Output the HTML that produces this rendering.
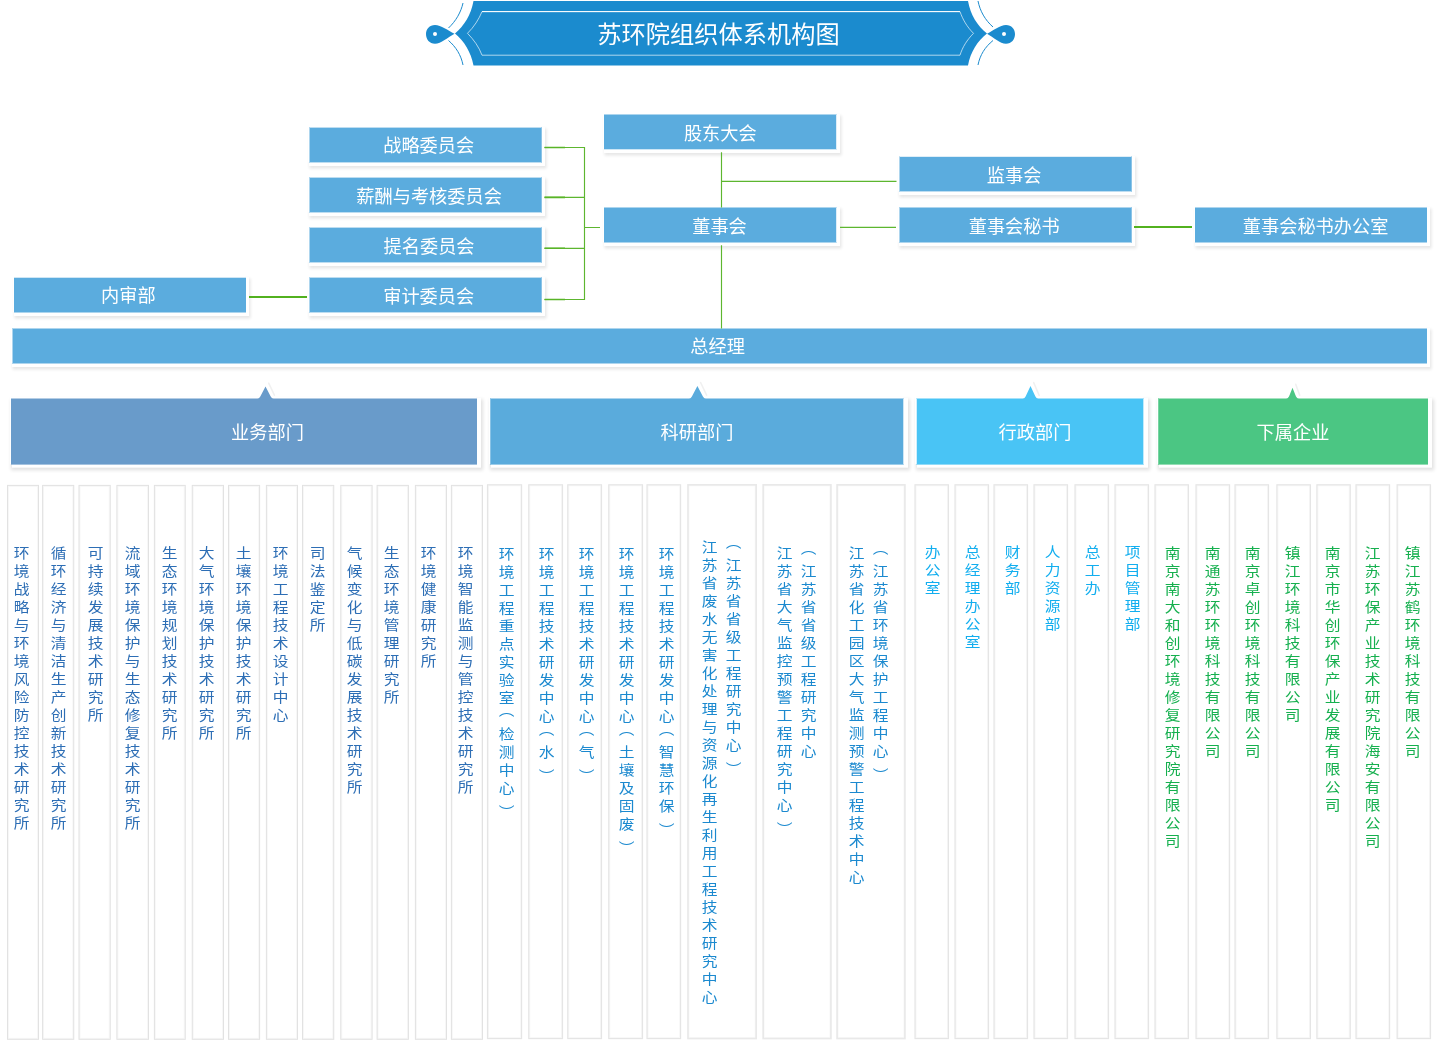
<!DOCTYPE html>
<html lang="zh-CN">
<head>
<meta charset="utf-8">
<title>苏环院组织体系机构图</title>
<style>
*{margin:0;padding:0;box-sizing:border-box}
html,body{width:1440px;height:1043px;background:#fff;overflow:hidden}
body{font-family:"Liberation Sans", "Noto Sans CJK SC", sans-serif;position:relative}
#wrap{position:absolute;left:0;top:0;width:1440px;height:1043px;overflow:hidden;background:#fff}
#wrap{will-change:transform}
svg{position:absolute;left:0;top:0}
.title{position:absolute;left:418.6px;top:1.5px;width:600px;height:66px;line-height:66px;text-align:center;color:#fff;font-size:24.25px;white-space:nowrap}
.box{position:absolute;background-clip:padding-box;box-shadow:1.5px 1.5px 0 1.5px #fff,-1px -1px 0 0 #fff,2.25px 3.3px 3px 2.5px rgba(0,0,0,.10)}
.bt{position:absolute;width:200px;height:30px;line-height:30px;text-align:center;color:#fff;font-size:18.2px;white-space:nowrap}
.head{position:absolute;background-clip:padding-box;box-shadow:2.5px 1.2px 0 1.5px #fff,-1px -1px 0 0 #fff,2.75px 3.25px 3.5px 2.75px rgba(0,0,0,.12)}
.ht{position:absolute;top:417.6px;width:120px;height:30px;line-height:30px;text-align:center;color:#fff;font-size:18.2px;white-space:nowrap}
.vt{position:absolute;writing-mode:vertical-rl;width:24px;font-size:15px;line-height:24px;letter-spacing:4.15px;white-space:nowrap;transform:scale(1.05,.94);transform-origin:50% 0}
.po{position:relative;top:-6px}.pc{position:relative;top:6px}
.b{color:#2d6eb5}.r{color:#1b89cf}.a{color:#12aeef}.s{color:#16b04f}
</style>
</head>
<body>
<div id="wrap">
<svg width="1440" height="400" viewBox="0 0 1440 400">
<g id="banner">
<path d="M473.5 1 H968 C970.5 15 977.5 26 987 33.5 C977.5 41 970.5 52 968 65.5 H473.5 C471 52 464 41 455 33.5 C464 26 471 15 473.5 1 Z" fill="#1b8bce"/>
<path d="M482 11.6 H960 C962.5 19 967 27 973.5 33.3 C967 40 962.5 47 960 55.2 H482 C479 47 474 40 467.5 33.3 C474 27 479 19 482 11.6 Z" fill="none" stroke="#fff" stroke-width="0.9" opacity="0.72"/>
<path d="M482 11.6 H960" fill="none" stroke="#fff" stroke-width="1"/>
<path d="M463 3 C461 12 456 21 448.5 28" fill="none" stroke="#1b8bce" stroke-width="1"/>
<path d="M463 65 C461 55 456 47 448.5 40.5" fill="none" stroke="#1b8bce" stroke-width="1"/>
<path d="M978 1 C980 11 985 20 993 27" fill="none" stroke="#1b8bce" stroke-width="1"/>
<path d="M978 65 C980 55 985 47 993 40.5" fill="none" stroke="#1b8bce" stroke-width="1"/>
<path d="M454.5 33.8 C448 30.5 441 25 435 25 C429.5 25 426 29 426 34 C426 39.5 429.5 43.7 435 43.7 C441 43.7 448 37.5 454.5 33.8 Z" fill="#1b8bce"/>
<circle cx="435" cy="34" r="2" fill="#fff"/>
<path d="M987 33.8 C993.5 30.5 1000 25 1006 25 C1011.5 25 1015 29 1015 34 C1015 39.5 1011.5 43.7 1006 43.7 C1000 43.7 993.5 37.5 987 33.8 Z" fill="#1b8bce"/>
<circle cx="1004" cy="34" r="2" fill="#fff"/>
</g>
</svg>

<div class="title">苏环院组织体系机构图</div>
<div class="box" style="left:309px;top:127px;width:233px;height:36px;background-color:#5bacde;border-style:solid;border-width:1px 1px 1px 1px;border-color:rgba(91,172,222,0.4) rgba(91,172,222,0.7) rgba(91,172,222,0.4) rgba(91,172,222,0.5)"></div>
<div class="box" style="left:309px;top:177px;width:233px;height:36px;background-color:#5bacde;border-style:solid;border-width:1px 1px 1px 1px;border-color:rgba(91,172,222,0.4) rgba(91,172,222,0.7) rgba(91,172,222,0.4) rgba(91,172,222,0.5)"></div>
<div class="box" style="left:309px;top:227px;width:233px;height:36px;background-color:#5bacde;border-style:solid;border-width:1px 1px 1px 1px;border-color:rgba(91,172,222,0.4) rgba(91,172,222,0.7) rgba(91,172,222,0.4) rgba(91,172,222,0.5)"></div>
<div class="box" style="left:309px;top:277px;width:233px;height:36px;background-color:#5bacde;border-style:solid;border-width:1px 1px 1px 1px;border-color:rgba(91,172,222,0.4) rgba(91,172,222,0.7) rgba(91,172,222,0.4) rgba(91,172,222,0.5)"></div>
<div class="box" style="left:14px;top:277px;width:232px;height:36px;background-color:#5bacde;border-style:solid;border-width:1px 0px 1px 0px;border-color:rgba(91,172,222,0.3) rgba(91,172,222,1) rgba(91,172,222,0.5) rgba(91,172,222,1)"></div>
<div class="box" style="left:604px;top:114px;width:233px;height:36px;background-color:#5bacde;border-style:solid;border-width:1px 1px 1px 0px;border-color:rgba(91,172,222,0.5) rgba(91,172,222,0.2) rgba(91,172,222,0.3) rgba(91,172,222,1)"></div>
<div class="box" style="left:604px;top:207px;width:233px;height:36px;background-color:#5bacde;border-style:solid;border-width:1px 1px 1px 0px;border-color:rgba(91,172,222,0.5) rgba(91,172,222,0.2) rgba(91,172,222,0.5) rgba(91,172,222,1)"></div>
<div class="box" style="left:899px;top:156px;width:233px;height:36px;background-color:#5bacde;border-style:solid;border-width:1px 1px 1px 1px;border-color:rgba(91,172,222,0.2) rgba(91,172,222,0.7) rgba(91,172,222,0.4) rgba(91,172,222,0.5)"></div>
<div class="box" style="left:899px;top:207px;width:233px;height:36px;background-color:#5bacde;border-style:solid;border-width:1px 1px 1px 1px;border-color:rgba(91,172,222,0.5) rgba(91,172,222,0.7) rgba(91,172,222,0.5) rgba(91,172,222,0.5)"></div>
<div class="box" style="left:1195px;top:207px;width:232px;height:36px;background-color:#5bacde;border-style:solid;border-width:1px 0px 1px 0px;border-color:rgba(91,172,222,0.5) rgba(91,172,222,1) rgba(91,172,222,0.5) rgba(91,172,222,1)"></div>
<div class="box" style="left:12px;top:328px;width:1415px;height:36px;background-color:#5bacde;border-style:solid;border-width:1px 0px 1px 1px;border-color:rgba(91,172,222,0.5) rgba(91,172,222,1) rgba(91,172,222,0.5) rgba(91,172,222,0.5)"></div>
<div class="bt" style="left:328.7px;top:130.7px">战略委员会</div>
<div class="bt" style="left:329.1px;top:182.4px">薪酬与考核委员会</div>
<div class="bt" style="left:329.1px;top:232.3px">提名委员会</div>
<div class="bt" style="left:328.7px;top:282.2px">审计委员会</div>
<div class="bt" style="left:28.4px;top:280.8px">内审部</div>
<div class="bt" style="left:620.3px;top:119.4px">股东大会</div>
<div class="bt" style="left:619.5px;top:211.8px">董事会</div>
<div class="bt" style="left:914.1px;top:161.2px">监事会</div>
<div class="bt" style="left:914.2px;top:211.7px">董事会秘书</div>
<div class="bt" style="left:1215.6px;top:211.7px">董事会秘书办公室</div>
<div class="bt" style="left:617.6px;top:332.3px">总经理</div>
<div class="head" style="left:11px;top:398px;width:466px;height:67px;background-color:#699bca;border-style:solid;border-width:1px 0px 1px 0px;border-color:rgba(105,155,202,0.5) rgba(105,155,202,1) rgba(105,155,202,0.6) rgba(105,155,202,1)"></div>
<div class="ht" style="left:207.5px">业务部门</div>
<div class="head" style="left:490px;top:398px;width:414px;height:67px;background-color:#5aabdc;border-style:solid;border-width:1px 1px 1px 1px;border-color:rgba(90,171,220,0.5) rgba(90,171,220,0.3) rgba(90,171,220,0.6) rgba(90,171,220,0.7)"></div>
<div class="ht" style="left:637px">科研部门</div>
<div class="head" style="left:916px;top:398px;width:228px;height:67px;background-color:#49c4f5;border-style:solid;border-width:1px 1px 1px 1px;border-color:rgba(73,196,245,0.5) rgba(73,196,245,0.35) rgba(73,196,245,0.6) rgba(73,196,245,0.25)"></div>
<div class="ht" style="left:975px">行政部门</div>
<div class="head" style="left:1158px;top:398px;width:270px;height:67px;background-color:#4bc683;border-style:solid;border-width:1px 0px 1px 1px;border-color:rgba(75,198,131,0.5) rgba(75,198,131,1) rgba(75,198,131,0.6) rgba(75,198,131,0.75)"></div>
<div class="ht" style="left:1233px">下属企业</div>
<svg width="1440" height="410" viewBox="0 0 1440 410">
<g fill="none" stroke="#5db62f" stroke-width="1.15">
<path d="M544.5 147.45 H584.5 M544.5 197.35 H584.5 M544.5 248.3 H584.5 M544.5 299.45 H584.5 M584.5 146.9 V300 M584.5 227.45 H600"/>
<path d="M721.5 152.3 V207.5 M721.5 245.3 V328.5 M721.5 181.35 H896.5 M840 227.4 H896"/>
</g>
<g fill="none" stroke="#58b427" stroke-width="1.6">
<path d="M544.5 147.45 H565 M544.5 197.35 H565 M544.5 248.3 H565 M544.5 299.45 H565"/>
</g>
<g fill="none" stroke="#52b11f" stroke-width="2">
<path d="M249 297 H307 M1134 227 H1192"/>
</g>
<path d="M268.7 383.1 L274.4 395.2" fill="none" stroke="#000" stroke-opacity=".06" stroke-width="1.6" stroke-linecap="round"/>
<path d="M257 399.2 Q259.2 398.6 260.3 396.6 L265.5 386.6 L270.7 396.6 Q271.8 398.6 274 399.2 Z" fill="#699bca"/>
<path d="M700.6 382.5 L706.6 395.2" fill="none" stroke="#000" stroke-opacity=".06" stroke-width="1.6" stroke-linecap="round"/>
<path d="M688.6 399.2 Q690.8 398.6 691.9 396.6 L697.4 386 L702.9 396.6 Q704 398.6 706.2 399.2 Z" fill="#5aabdc"/>
<path d="M1033.7 382.6 L1039.1 395.2" fill="none" stroke="#000" stroke-opacity=".06" stroke-width="1.6" stroke-linecap="round"/>
<path d="M1022.3 399.2 Q1024.5 398.6 1025.6 396.6 L1030.5 386.1 L1035.4 396.6 Q1036.5 398.6 1038.7 399.2 Z" fill="#49c4f5"/>
<path d="M1295.7 384.3 L1299.7 395.2" fill="none" stroke="#000" stroke-opacity=".06" stroke-width="1.6" stroke-linecap="round"/>
<path d="M1285.7 399.2 Q1287.9 398.6 1289 396.6 L1292.5 387.8 L1296 396.6 Q1297.1 398.6 1299.3 399.2 Z" fill="#4bc683"/>
</svg>
<svg width="1440" height="1043" viewBox="0 0 1440 1043">
<rect x="7.5" y="485.4" width="31" height="553.9" fill="#fff" stroke="#e2e2e2" stroke-width="1"/>
<rect x="8.5" y="486.4" width="29" height="551.9" fill="none" stroke="#000" stroke-opacity=".03" stroke-width="1"/>
<rect x="42.6" y="485.4" width="31.15" height="553.9" fill="#fff" stroke="#e2e2e2" stroke-width="1"/>
<rect x="43.6" y="486.4" width="29.15" height="551.9" fill="none" stroke="#000" stroke-opacity=".03" stroke-width="1"/>
<rect x="79" y="485.4" width="31.25" height="553.9" fill="#fff" stroke="#e2e2e2" stroke-width="1"/>
<rect x="80" y="486.4" width="29.25" height="551.9" fill="none" stroke="#000" stroke-opacity=".03" stroke-width="1"/>
<rect x="116.9" y="485.4" width="31.6" height="553.9" fill="#fff" stroke="#e2e2e2" stroke-width="1"/>
<rect x="117.9" y="486.4" width="29.6" height="551.9" fill="none" stroke="#000" stroke-opacity=".03" stroke-width="1"/>
<rect x="154.4" y="485.4" width="30.85" height="553.9" fill="#fff" stroke="#e2e2e2" stroke-width="1"/>
<rect x="155.4" y="486.4" width="28.85" height="551.9" fill="none" stroke="#000" stroke-opacity=".03" stroke-width="1"/>
<rect x="192.25" y="485.4" width="31.25" height="553.9" fill="#fff" stroke="#e2e2e2" stroke-width="1"/>
<rect x="193.25" y="486.4" width="29.25" height="551.9" fill="none" stroke="#000" stroke-opacity=".03" stroke-width="1"/>
<rect x="228.5" y="485.4" width="31.1" height="553.9" fill="#fff" stroke="#e2e2e2" stroke-width="1"/>
<rect x="229.5" y="486.4" width="29.1" height="551.9" fill="none" stroke="#000" stroke-opacity=".03" stroke-width="1"/>
<rect x="266.4" y="485.4" width="31.1" height="553.9" fill="#fff" stroke="#e2e2e2" stroke-width="1"/>
<rect x="267.4" y="486.4" width="29.1" height="551.9" fill="none" stroke="#000" stroke-opacity=".03" stroke-width="1"/>
<rect x="302.5" y="485.4" width="31.25" height="553.9" fill="#fff" stroke="#e2e2e2" stroke-width="1"/>
<rect x="303.5" y="486.4" width="29.25" height="551.9" fill="none" stroke="#000" stroke-opacity=".03" stroke-width="1"/>
<rect x="340.75" y="485.4" width="31.35" height="553.9" fill="#fff" stroke="#e2e2e2" stroke-width="1"/>
<rect x="341.75" y="486.4" width="29.35" height="551.9" fill="none" stroke="#000" stroke-opacity=".03" stroke-width="1"/>
<rect x="377.1" y="485.4" width="31.3" height="553.9" fill="#fff" stroke="#e2e2e2" stroke-width="1"/>
<rect x="378.1" y="486.4" width="29.3" height="551.9" fill="none" stroke="#000" stroke-opacity=".03" stroke-width="1"/>
<rect x="415.4" y="485.4" width="31.1" height="553.9" fill="#fff" stroke="#e2e2e2" stroke-width="1"/>
<rect x="416.4" y="486.4" width="29.1" height="551.9" fill="none" stroke="#000" stroke-opacity=".03" stroke-width="1"/>
<rect x="451.4" y="485.4" width="31.1" height="553.9" fill="#fff" stroke="#e2e2e2" stroke-width="1"/>
<rect x="452.4" y="486.4" width="29.1" height="551.9" fill="none" stroke="#000" stroke-opacity=".03" stroke-width="1"/>
<rect x="487.5" y="484.8" width="34.1" height="553.8" fill="#fff" stroke="#e5e5e5" stroke-width="1.15"/>
<rect x="488.5" y="485.8" width="32.1" height="551.8" fill="none" stroke="#000" stroke-opacity=".03" stroke-width="1"/>
<rect x="528.75" y="484.8" width="33.75" height="553.8" fill="#fff" stroke="#e5e5e5" stroke-width="1.15"/>
<rect x="529.75" y="485.8" width="31.75" height="551.8" fill="none" stroke="#000" stroke-opacity=".03" stroke-width="1"/>
<rect x="567.75" y="484.8" width="33.75" height="553.8" fill="#fff" stroke="#e5e5e5" stroke-width="1.15"/>
<rect x="568.75" y="485.8" width="31.75" height="551.8" fill="none" stroke="#000" stroke-opacity=".03" stroke-width="1"/>
<rect x="608.75" y="484.8" width="33.75" height="553.8" fill="#fff" stroke="#e5e5e5" stroke-width="1.15"/>
<rect x="609.75" y="485.8" width="31.75" height="551.8" fill="none" stroke="#000" stroke-opacity=".03" stroke-width="1"/>
<rect x="647" y="484.8" width="33.6" height="553.8" fill="#fff" stroke="#e5e5e5" stroke-width="1.15"/>
<rect x="648" y="485.8" width="31.6" height="551.8" fill="none" stroke="#000" stroke-opacity=".03" stroke-width="1"/>
<rect x="687.9" y="484.8" width="68.35" height="553.8" fill="#fff" stroke="#e9e9e9" stroke-width="1.5"/>
<rect x="688.9" y="485.8" width="66.35" height="551.8" fill="none" stroke="#000" stroke-opacity=".03" stroke-width="1"/>
<rect x="763.1" y="484.8" width="67.9" height="553.8" fill="#fff" stroke="#e9e9e9" stroke-width="1.5"/>
<rect x="764.1" y="485.8" width="65.9" height="551.8" fill="none" stroke="#000" stroke-opacity=".03" stroke-width="1"/>
<rect x="837" y="484.8" width="68" height="553.8" fill="#fff" stroke="#e9e9e9" stroke-width="1.5"/>
<rect x="838" y="485.8" width="66" height="551.8" fill="none" stroke="#000" stroke-opacity=".03" stroke-width="1"/>
<rect x="915" y="484.8" width="33.4" height="553.8" fill="#fff" stroke="#e5e5e5" stroke-width="1.15"/>
<rect x="916" y="485.8" width="31.4" height="551.8" fill="none" stroke="#000" stroke-opacity=".03" stroke-width="1"/>
<rect x="955" y="484.8" width="33.5" height="553.8" fill="#fff" stroke="#e5e5e5" stroke-width="1.15"/>
<rect x="956" y="485.8" width="31.5" height="551.8" fill="none" stroke="#000" stroke-opacity=".03" stroke-width="1"/>
<rect x="994" y="484.8" width="33.5" height="553.8" fill="#fff" stroke="#e5e5e5" stroke-width="1.15"/>
<rect x="995" y="485.8" width="31.5" height="551.8" fill="none" stroke="#000" stroke-opacity=".03" stroke-width="1"/>
<rect x="1034" y="484.8" width="33.5" height="553.8" fill="#fff" stroke="#e5e5e5" stroke-width="1.15"/>
<rect x="1035" y="485.8" width="31.5" height="551.8" fill="none" stroke="#000" stroke-opacity=".03" stroke-width="1"/>
<rect x="1075" y="484.8" width="33.5" height="553.8" fill="#fff" stroke="#e5e5e5" stroke-width="1.15"/>
<rect x="1076" y="485.8" width="31.5" height="551.8" fill="none" stroke="#000" stroke-opacity=".03" stroke-width="1"/>
<rect x="1115" y="484.8" width="33.5" height="553.8" fill="#fff" stroke="#e5e5e5" stroke-width="1.15"/>
<rect x="1116" y="485.8" width="31.5" height="551.8" fill="none" stroke="#000" stroke-opacity=".03" stroke-width="1"/>
<rect x="1155" y="484.8" width="33.4" height="553.8" fill="#fff" stroke="#e5e5e5" stroke-width="1.15"/>
<rect x="1156" y="485.8" width="31.4" height="551.8" fill="none" stroke="#000" stroke-opacity=".03" stroke-width="1"/>
<rect x="1196" y="484.8" width="33.6" height="553.8" fill="#fff" stroke="#e5e5e5" stroke-width="1.15"/>
<rect x="1197" y="485.8" width="31.6" height="551.8" fill="none" stroke="#000" stroke-opacity=".03" stroke-width="1"/>
<rect x="1235" y="484.8" width="33.5" height="553.8" fill="#fff" stroke="#e5e5e5" stroke-width="1.15"/>
<rect x="1236" y="485.8" width="31.5" height="551.8" fill="none" stroke="#000" stroke-opacity=".03" stroke-width="1"/>
<rect x="1276.9" y="484.8" width="33.5" height="553.8" fill="#fff" stroke="#e5e5e5" stroke-width="1.15"/>
<rect x="1277.9" y="485.8" width="31.5" height="551.8" fill="none" stroke="#000" stroke-opacity=".03" stroke-width="1"/>
<rect x="1316.9" y="484.8" width="33.35" height="553.8" fill="#fff" stroke="#e5e5e5" stroke-width="1.15"/>
<rect x="1317.9" y="485.8" width="31.35" height="551.8" fill="none" stroke="#000" stroke-opacity=".03" stroke-width="1"/>
<rect x="1356" y="484.8" width="33.6" height="553.8" fill="#fff" stroke="#e5e5e5" stroke-width="1.15"/>
<rect x="1357" y="485.8" width="31.6" height="551.8" fill="none" stroke="#000" stroke-opacity=".03" stroke-width="1"/>
<rect x="1397.1" y="484.8" width="33.4" height="553.8" fill="#fff" stroke="#e5e5e5" stroke-width="1.15"/>
<rect x="1398.1" y="485.8" width="31.4" height="551.8" fill="none" stroke="#000" stroke-opacity=".03" stroke-width="1"/>
</svg>
<div class="vt b" style="left:7.7px;top:545.6px">环境战略与环境风险防控技术研究所</div>
<div class="vt b" style="left:44.7px;top:545.6px">循环经济与清洁生产创新技术研究所</div>
<div class="vt b" style="left:81.7px;top:545.6px">可持续发展技术研究所</div>
<div class="vt b" style="left:118.7px;top:545.6px">流域环境保护与生态修复技术研究所</div>
<div class="vt b" style="left:155.7px;top:545.6px">生态环境规划技术研究所</div>
<div class="vt b" style="left:192.7px;top:545.6px">大气环境保护技术研究所</div>
<div class="vt b" style="left:229.7px;top:545.6px">土壤环境保护技术研究所</div>
<div class="vt b" style="left:266.7px;top:545.6px">环境工程技术设计中心</div>
<div class="vt b" style="left:303.7px;top:545.6px">司法鉴定所</div>
<div class="vt b" style="left:340.7px;top:545.6px">气候变化与低碳发展技术研究所</div>
<div class="vt b" style="left:377.7px;top:545.6px">生态环境管理研究所</div>
<div class="vt b" style="left:414.7px;top:545.6px">环境健康研究所</div>
<div class="vt b" style="left:451.7px;top:545.6px">环境智能监测与管控技术研究所</div>
<div class="vt r" style="left:493px;top:547.3px">环境工程重点实验室<span class="po">（</span>检测中心<span class="pc">）</span></div>
<div class="vt r" style="left:533px;top:547.3px">环境工程技术研发中心<span class="po">（</span>水<span class="pc">）</span></div>
<div class="vt r" style="left:573px;top:547.3px">环境工程技术研发中心<span class="po">（</span>气<span class="pc">）</span></div>
<div class="vt r" style="left:613px;top:547.3px">环境工程技术研发中心<span class="po">（</span>土壤及固废<span class="pc">）</span></div>
<div class="vt r" style="left:653px;top:547.3px">环境工程技术研发中心<span class="po">（</span>智慧环保<span class="pc">）</span></div>
<div class="vt r" style="left:720.2px;top:539.5px"><span class="po">（</span>江苏省省级工程研究中心<span class="pc">）</span></div>
<div class="vt r" style="left:696.1px;top:539.5px">江苏省废水无害化处理与资源化再生利用工程技术研究中心</div>
<div class="vt r" style="left:795.1px;top:545.5px"><span class="po">（</span>江苏省省级工程研究中心</div>
<div class="vt r" style="left:771.1px;top:545.5px">江苏省大气监控预警工程研究中心<span class="pc">）</span></div>
<div class="vt r" style="left:867.2px;top:545.5px"><span class="po">（</span>江苏省环境保护工程中心<span class="pc">）</span></div>
<div class="vt r" style="left:843.1px;top:545.5px">江苏省化工园区大气监测预警工程技术中心</div>
<div class="vt a" style="left:918.5px;top:545.2px">办公室</div>
<div class="vt a" style="left:958.5px;top:545.2px">总经理办公室</div>
<div class="vt a" style="left:998.5px;top:545.2px">财务部</div>
<div class="vt a" style="left:1038.5px;top:545.2px">人力资源部</div>
<div class="vt a" style="left:1078.5px;top:545.2px">总工办</div>
<div class="vt a" style="left:1118.5px;top:545.2px">项目管理部</div>
<div class="vt s" style="left:1158.6px;top:546.3px">南京南大和创环境修复研究院有限公司</div>
<div class="vt s" style="left:1198.6px;top:546.3px">南通苏环环境科技有限公司</div>
<div class="vt s" style="left:1238.6px;top:546.3px">南京卓创环境科技有限公司</div>
<div class="vt s" style="left:1278.6px;top:546.3px">镇江环境科技有限公司</div>
<div class="vt s" style="left:1318.6px;top:546.3px">南京市华创环保产业发展有限公司</div>
<div class="vt s" style="left:1358.6px;top:546.3px">江苏环保产业技术研究院海安有限公司</div>
<div class="vt s" style="left:1398.6px;top:546.3px">镇江苏鹤环境科技有限公司</div>
</div>
</body>
</html>
